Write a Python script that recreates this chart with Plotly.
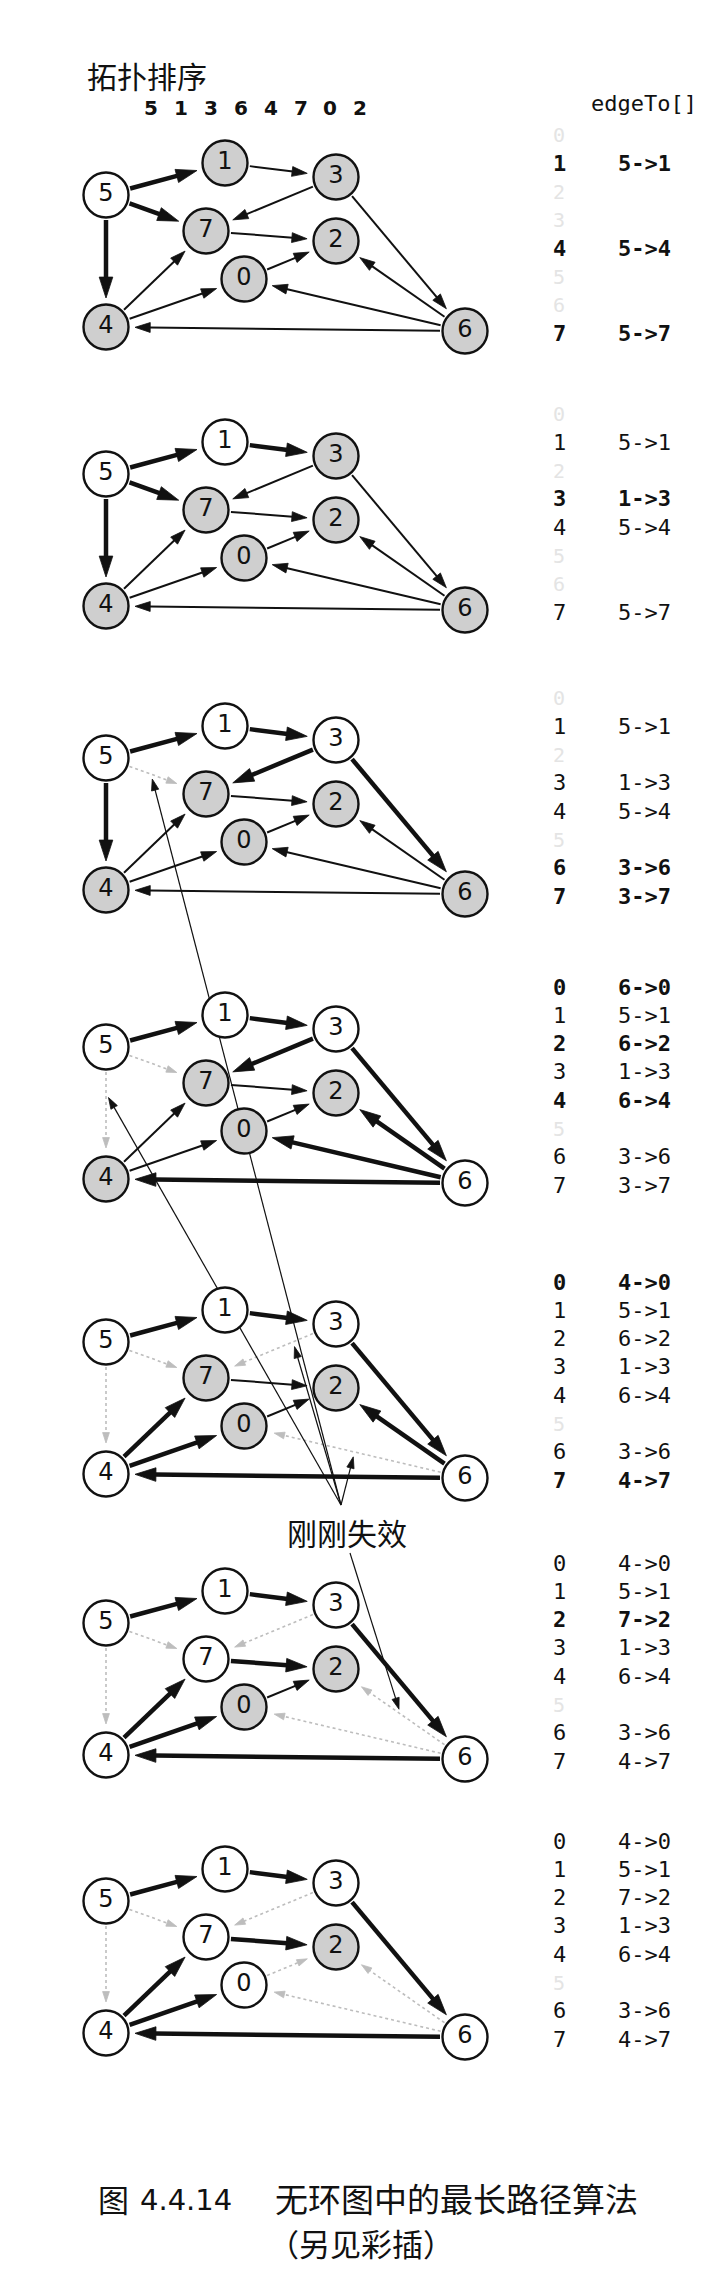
import math
import plotly.graph_objects as go

W, H = 720, 2280

# ---------------- data ----------------
# vertex 0..7 : x position, and y offset relative to vertex 5 of each panel
vert_x = [236, 217, 328, 328, 98, 98, 457, 198]
vert_dy = [84, -32, 46, -18, 132, 0, 136, 36]
panel_y = [187, 466, 750, 1039, 1334, 1615, 1893]

edge_src = [5, 4, 5, 5, 4, 0, 3, 1, 7, 6, 3, 6, 6]
edge_dst = [4, 7, 7, 1, 0, 2, 7, 3, 2, 2, 6, 0, 4]

topo_order = [5, 1, 3, 6, 4, 7, 0, 2]

panel_thick = [
    ["5->1", "5->7", "5->4"],
    ["5->1", "1->3", "5->7", "5->4"],
    ["5->1", "1->3", "3->7", "3->6", "5->4"],
    ["5->1", "1->3", "3->7", "3->6", "6->2", "6->0", "6->4"],
    ["5->1", "1->3", "3->6", "6->2", "6->4", "4->7", "4->0"],
    ["5->1", "1->3", "3->6", "7->2", "6->4", "4->7", "4->0"],
    ["5->1", "1->3", "3->6", "7->2", "6->4", "4->7", "4->0"],
]
panel_gray = [
    [],
    [],
    ["5->7"],
    ["5->7", "5->4"],
    ["5->7", "5->4", "3->7", "6->0"],
    ["5->7", "5->4", "3->7", "6->0", "6->2"],
    ["5->7", "5->4", "3->7", "6->0", "6->2", "0->2"],
]

edge_to = [
    ["", "5->1", "", "", "5->4", "", "", "5->7"],
    ["", "5->1", "", "1->3", "5->4", "", "", "5->7"],
    ["", "5->1", "", "1->3", "5->4", "", "3->6", "3->7"],
    ["6->0", "5->1", "6->2", "1->3", "6->4", "", "3->6", "3->7"],
    ["4->0", "5->1", "6->2", "1->3", "6->4", "", "3->6", "4->7"],
    ["4->0", "5->1", "7->2", "1->3", "6->4", "", "3->6", "4->7"],
    ["4->0", "5->1", "7->2", "1->3", "6->4", "", "3->6", "4->7"],
]
edge_to_bold = [[1, 4, 7], [3], [6, 7], [0, 2, 4], [0, 7], [2], []]

# annotation pointers: (panel, edge, fraction along edge)
pointer_up = [(2, "5->7", 0.45), (3, "5->4", 0.35), (4, "3->7", 0.33), (4, "6->0", 0.5)]
pointer_down = [(5, "6->2", 0.5)]

title_text = "拓扑排序"
pointer_label = "刚刚失效"
caption_fig = "图"
caption_num = "4.4.14"
caption_title = "无环图中的最长路径算法"
caption_note = "（另见彩插）"

# ---------------- style ----------------
R = 24
BLACK = "#111111"
GRAY_EDGE = "#bdbdbd"
NODE_GRAY = "#cfcfcf"

fig = go.Figure()


def pos(p, v):
    return vert_x[v], panel_y[p] + vert_dy[v]


def add_arrow(x0, y0, x1, y1, color, width, dash, asize):
    fig.add_trace(go.Scatter(
        x=[x0, x1], y=[y0, y1], mode="lines+markers",
        line=dict(color=color, width=width, dash=dash),
        marker=dict(symbol="arrow", size=[0, asize], angleref="previous",
                    color=color, opacity=1, line=dict(width=0.8, color=color)),
        hoverinfo="skip", showlegend=False))


# edges
for p in range(len(panel_y)):
    for s, d in zip(edge_src, edge_dst):
        name = f"{s}->{d}"
        x0, y0 = pos(p, s)
        x1, y1 = pos(p, d)
        L = math.hypot(x1 - x0, y1 - y0)
        ux, uy = (x1 - x0) / L, (y1 - y0) / L
        sx, sy = x0 + (R + 1) * ux, y0 + (R + 1) * uy
        if name in panel_gray[p]:
            ex, ey = x1 - (R + 7) * ux, y1 - (R + 7) * uy
            add_arrow(sx, sy, ex, ey, GRAY_EDGE, 1.6, "dot", 11)
        elif name in panel_thick[p]:
            ex, ey = x1 - (R + 5) * ux, y1 - (R + 5) * uy
            add_arrow(sx, sy, ex, ey, BLACK, 4.5, "solid", 22)
        else:
            ex, ey = x1 - (R + 5) * ux, y1 - (R + 5) * uy
            add_arrow(sx, sy, ex, ey, BLACK, 2, "solid", 16)

# pointer lines for "刚刚失效"
label_x, label_y = 339, 1524


def edge_point(p, name, t):
    s, d = [int(c) for c in name.split("->")]
    x0, y0 = pos(p, s)
    x1, y1 = pos(p, d)
    return x0 + (x1 - x0) * t, y0 + (y1 - y0) * t


for (p, name, t), oy in [(q, -27) for q in pointer_up] + [(q, 21) for q in pointer_down]:
    tx, ty = edge_point(p, name, t)
    ox, oy2 = label_x - 6 + (9 if oy > 0 else 0), label_y + oy
    L = math.hypot(tx - ox, ty - oy2)
    ux, uy = (tx - ox) / L, (ty - oy2) / L
    add_arrow(ox, oy2, tx - 5 * ux, ty - 5 * uy, BLACK, 1.2, "solid", 12)

# nodes
for p in range(len(panel_y)):
    done = set(topo_order[:p + 1])
    xs, ys, cols, txt = [], [], [], []
    for v in range(8):
        x, y = pos(p, v)
        xs.append(x)
        ys.append(y)
        cols.append("white" if v in done else NODE_GRAY)
        txt.append(str(v))
    fig.add_trace(go.Scatter(
        x=xs, y=ys, mode="markers+text", text=txt, textposition="middle center",
        textfont=dict(family="DejaVu Sans", size=24, color=BLACK),
        marker=dict(size=45, color=cols, line=dict(color=BLACK, width=2.4)),
        hoverinfo="skip", showlegend=False))

ann = []


def text(x, y, s, size, family, color=BLACK, xanchor="center"):
    ann.append(dict(x=x, y=y, xref="x", yref="y", text=s, showarrow=False,
                    xanchor=xanchor, yanchor="middle",
                    font=dict(size=size, family=family, color=color)))


# header
text(77, 67, title_text, 30, "Noto Sans CJK SC", xanchor="left")
for i, v in enumerate(topo_order):
    text(143 + i * 29.9, 100, f"<b>{v}</b>", 20, "DejaVu Sans")
text(636, 95, "edgeTo[]", 22, "DejaVu Sans Mono")

# tables
ROW = 28.3
for p in range(len(panel_y)):
    y0 = panel_y[p] - 60
    for v in range(8):
        y = y0 + v * ROW
        val = edge_to[p][v]
        if val == "":
            text(551, y, str(v), 20, "DejaVu Sans Mono", color="#e4e4e4")
            continue
        b = v in edge_to_bold[p]
        idx = f"<b>{v}</b>" if b else str(v)
        vs = f"<b>{val}</b>" if b else val
        text(551, y, idx, 22, "DejaVu Sans Mono")
        text(636, y, vs, 22, "DejaVu Sans Mono")

# pointer label
text(label_x, label_y, pointer_label, 30, "Noto Sans CJK SC")

# caption
text(88, 2190, caption_fig, 31, "Noto Sans CJK SC", xanchor="left")
text(130, 2192, caption_num, 29, "DejaVu Sans", xanchor="left")
text(265, 2190, caption_title, 33, "Noto Sans CJK SC", xanchor="left")
text(258, 2234, caption_note, 31, "Noto Sans CJK SC", xanchor="left")

fig.update_layout(
    width=W, height=H, autosize=False,
    margin=dict(l=0, r=0, t=0, b=0),
    paper_bgcolor="white", plot_bgcolor="white",
    xaxis=dict(range=[0, W], visible=False, fixedrange=True),
    yaxis=dict(range=[H, 0], visible=False, fixedrange=True),
    annotations=ann,
)

fig.write_html("out.html")
